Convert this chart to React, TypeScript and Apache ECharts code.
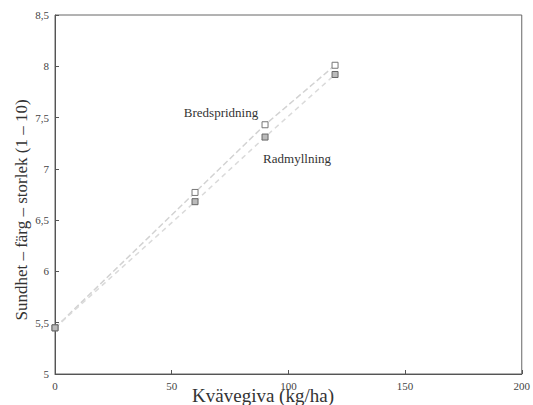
import React, { useEffect, useRef } from "react";
import * as echarts from "echarts";

// Nitrogen rate (kg/ha)
const nitrogen = [0, 60, 90, 120];
// Health – colour – size score (1–10)
const broadcastScores = [5.45, 6.77, 7.43, 8.01];
const rowPlacedScores = [5.45, 6.68, 7.31, 7.92];
const yTicks = [5, 5.5, 6, 6.5, 7, 7.5, 8, 8.5];
const xTicks = [0, 50, 100, 150, 200];

const FONT = "'Liberation Serif', 'DejaVu Serif', serif";

const fmt = (v: number) => String(v).replace(".", ",");

export default function App() {
  const ref = useRef<HTMLDivElement>(null);

  useEffect(() => {
    if (!ref.current) return;
    document.body.style.margin = "0";
    const chart = echarts.init(ref.current, undefined, { renderer: "svg" });

    const seriesLabel = (text: string, offset: number[]) => ({
      show: true,
      formatter: text,
      position: "inside",
      offset,
      color: "#333",
      fontFamily: FONT,
      fontSize: 13,
    });

    const broadcastData = nitrogen.map((x, i) => {
      const item: any = { value: [x, broadcastScores[i]] };
      if (x === 90) item.label = seriesLabel("Bredspridning", [-44, -12]);
      return item;
    });
    const rowData = nitrogen.map((x, i) => {
      const item: any = { value: [x, rowPlacedScores[i]] };
      if (x === 90) item.label = seriesLabel("Radmyllning", [32, 21]);
      return item;
    });

    chart.setOption({
      animation: false,
      backgroundColor: "#fff",
      graphic: [
        {
          // y-axis title
          type: "text",
          x: 21,
          y: 210,
          rotation: Math.PI / 2,
          style: {
            text: "Sundhet – färg – storlek (1 – 10)",
            fontFamily: FONT,
            fontSize: 17,
            fill: "#333",
            textAlign: "center",
            textVerticalAlign: "middle",
          },
        },
        {
          // x-axis title
          type: "text",
          x: 263,
          y: 395,
          style: {
            text: "Kvävegiva (kg/ha)",
            fontFamily: FONT,
            fontSize: 19,
            fill: "#333",
            textAlign: "center",
            textVerticalAlign: "middle",
          },
        },
      ],
      grid: {
        left: 55,
        right: 10,
        top: 15,
        bottom: 31,
        show: true,
        borderColor: "#666",
        borderWidth: 1,
      },
      xAxis: {
        type: "value",
        min: 0,
        max: 200,
        interval: 50,
        axisLine: { show: true, lineStyle: { color: "#555" } },
        axisTick: { show: true, inside: true, length: 4, lineStyle: { color: "#555" } },
        axisLabel: {
          fontFamily: FONT,
          fontSize: 11,
          color: "#444",
          margin: 6,
          formatter: (v: number) => (xTicks.includes(v) ? String(v) : ""),
        },
        splitLine: { show: false },
      },
      yAxis: {
        type: "value",
        min: 5,
        max: 8.5,
        interval: 0.5,
        axisLine: { show: true, lineStyle: { color: "#555" } },
        axisTick: { show: true, inside: true, length: 4, lineStyle: { color: "#555" } },
        axisLabel: {
          fontFamily: FONT,
          fontSize: 11,
          color: "#444",
          margin: 6,
          formatter: (v: number) => (yTicks.includes(v) ? fmt(v) : ""),
        },
        splitLine: { show: false },
      },
      series: [
        {
          name: "Bredspridning",
          type: "line",
          data: broadcastData,
          symbol: "rect",
          symbolSize: 6,
          itemStyle: { color: "#fff", borderColor: "#777", borderWidth: 1 },
          lineStyle: { color: "#d2d2d2", width: 1.5, type: [6, 3] },
          z: 3,
        },
        {
          name: "Radmyllning",
          type: "line",
          data: rowData,
          symbol: "rect",
          symbolSize: 6,
          itemStyle: { color: "#bbb", borderColor: "#666", borderWidth: 1 },
          lineStyle: { color: "#dadada", width: 1.5, type: [5, 4] },
          z: 3,
        },
      ],
    });

    return () => chart.dispose();
  }, []);

  return <div ref={ref} style={{ width: 533, height: 405 }} />;
}
